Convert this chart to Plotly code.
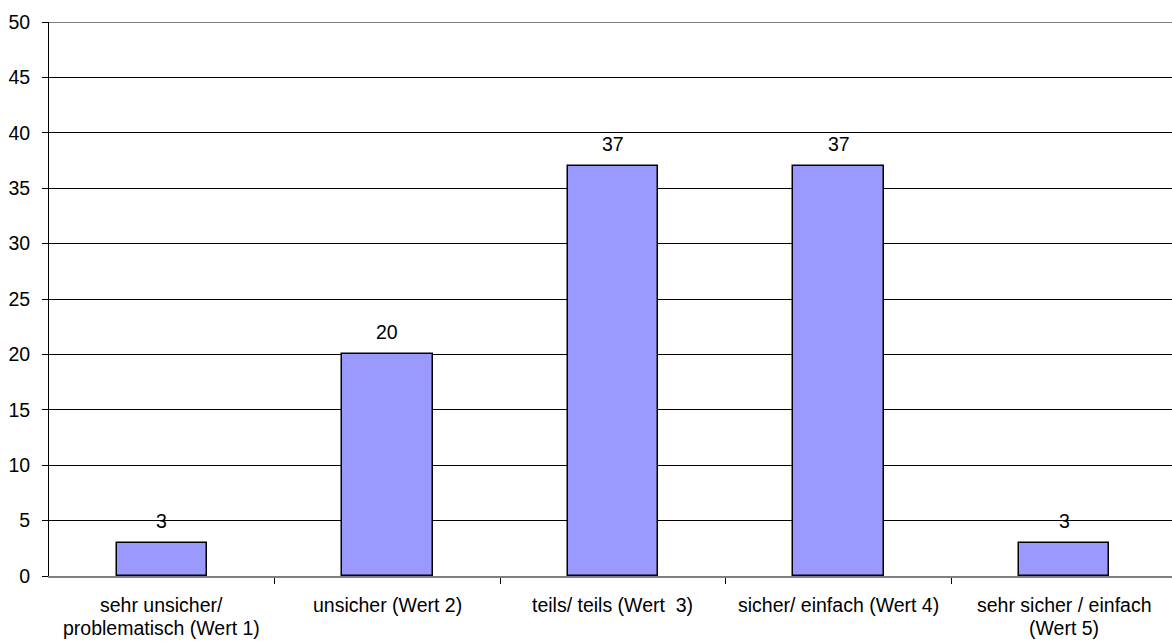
import plotly.graph_objects as go

# Survey answer categories (two-line labels) and counts
categories = [
    "sehr unsicher/<br>problematisch (Wert 1)",
    "unsicher (Wert 2)",
    "teils/ teils (Wert  3)",
    "sicher/ einfach (Wert 4)",
    "sehr sicher / einfach<br>(Wert 5)",
]
values = [3, 20, 37, 37, 3]
y_ticks = list(range(0, 55, 5))

FONT = "Liberation Sans, Arial, sans-serif"
FSIZE = 19.5
x_pos = list(range(len(categories)))

fig = go.Figure()
fig.add_trace(go.Bar(
    x=x_pos,
    y=values,
    width=0.4,
    marker=dict(color="#9999FF", line=dict(color="#000000", width=1.5)),
    hoverinfo="skip",
))

# value labels above each bar
for i, v in enumerate(values):
    fig.add_annotation(
        x=i, y=v, xref="x", yref="y",
        text=str(v), showarrow=False,
        yanchor="middle", yshift=22,
        font=dict(family=FONT, size=FSIZE, color="#000000"),
    )

# category labels under the axis
for i, cat in enumerate(categories):
    for j, line in enumerate(cat.split("<br>")):
        fig.add_annotation(
            x=i, y=0, xref="x", yref="y",
            text=line, showarrow=False,
            yanchor="middle", yshift=-29 - 23 * j,
            font=dict(family=FONT, size=FSIZE, color="#000000"),
        )

# grey border line along the top of the plot area
fig.add_shape(type="line", xref="paper", yref="y", x0=0, x1=1, y0=50, y1=50,
              line=dict(color="#808080", width=2))

fig.update_layout(
    width=1172, height=641,
    margin=dict(l=49, r=0, t=22, b=65),
    paper_bgcolor="white", plot_bgcolor="white",
    showlegend=False,
    bargap=0,
    font=dict(family=FONT, size=FSIZE, color="#000000"),
    xaxis=dict(
        range=[-0.5, 4.478],
        tickvals=[v + 0.5 for v in x_pos],
        ticktext=[""] * len(x_pos),
        ticks="outside", ticklen=6, tickcolor="#000000", tickwidth=1,
        showline=True, linecolor="#808080", linewidth=2,
        showgrid=False, zeroline=False,
    ),
    yaxis=dict(
        range=[0, 50],
        tickvals=y_ticks,
        ticks="outside", ticklen=6, tickcolor="#000000", tickwidth=1,
        showline=True, linecolor="#000000", linewidth=1,
        showgrid=True, gridcolor="#000000", gridwidth=1,
        zeroline=False,
        tickfont=dict(family=FONT, size=FSIZE, color="#000000"),
        ticklabelstandoff=8,
    ),
)

fig.write_html("out.html")
